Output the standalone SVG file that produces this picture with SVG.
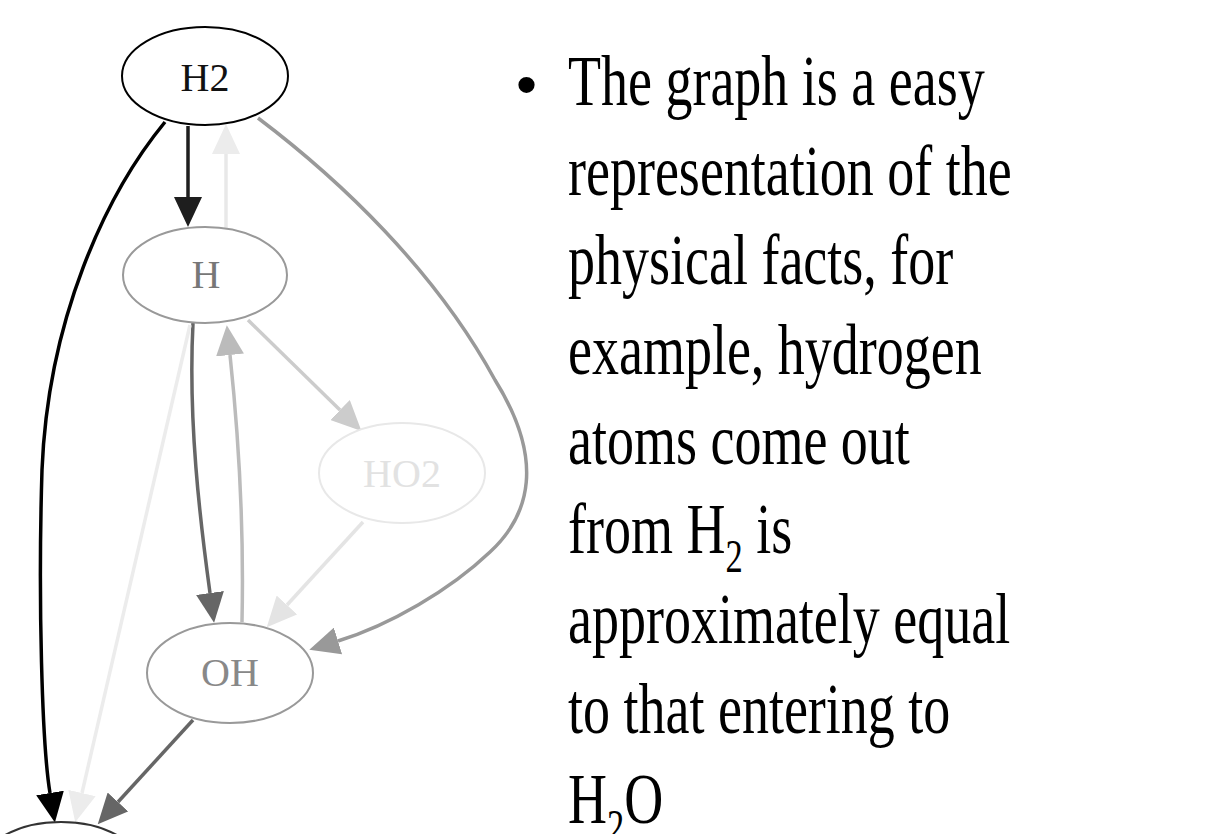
<svg xmlns="http://www.w3.org/2000/svg" width="1218" height="834" viewBox="0 0 1218 834">
<style>
.node{stroke-width:2}
.lbl{font-family:"Liberation Serif","Times New Roman",serif;font-size:40px;text-anchor:middle}
.edge{fill:none;stroke-width:3.5}
.body{font-family:"Liberation Serif","Times New Roman",serif;font-size:72px;fill:#000}
</style>
<defs>
<marker id="a-k" viewBox="0 0 30 28" refX="0" refY="14" markerWidth="30" markerHeight="28" markerUnits="userSpaceOnUse" orient="auto"><path d="M0,0 L30,14 L0,28 z" fill="#000"/></marker>
<marker id="a-22" viewBox="0 0 30 28" refX="0" refY="14" markerWidth="30" markerHeight="28" markerUnits="userSpaceOnUse" orient="auto"><path d="M0,0 L30,14 L0,28 z" fill="#1e1e1e"/></marker>
<marker id="a-66" viewBox="0 0 30 28" refX="0" refY="14" markerWidth="30" markerHeight="28" markerUnits="userSpaceOnUse" orient="auto"><path d="M0,0 L30,14 L0,28 z" fill="#666"/></marker>
<marker id="a-99" viewBox="0 0 30 28" refX="0" refY="14" markerWidth="30" markerHeight="28" markerUnits="userSpaceOnUse" orient="auto"><path d="M0,0 L30,14 L0,28 z" fill="#999"/></marker>
<marker id="a-bb" viewBox="0 0 30 28" refX="0" refY="14" markerWidth="30" markerHeight="28" markerUnits="userSpaceOnUse" orient="auto"><path d="M0,0 L30,14 L0,28 z" fill="#bbb"/></marker>
<marker id="a-cc" viewBox="0 0 30 28" refX="0" refY="14" markerWidth="30" markerHeight="28" markerUnits="userSpaceOnUse" orient="auto"><path d="M0,0 L30,14 L0,28 z" fill="#ccc"/></marker>
<marker id="a-e6" viewBox="0 0 30 28" refX="0" refY="14" markerWidth="30" markerHeight="28" markerUnits="userSpaceOnUse" orient="auto"><path d="M0,0 L30,14 L0,28 z" fill="#e4e4e4"/></marker>
<marker id="a-ee" viewBox="0 0 30 28" refX="0" refY="14" markerWidth="30" markerHeight="28" markerUnits="userSpaceOnUse" orient="auto"><path d="M0,0 L30,14 L0,28 z" fill="#ececec"/></marker>
</defs>
<rect width="1218" height="834" fill="#fff"/>
<g id="connectors">
<path class="edge" d="M165,122 C105,195 48,320 42,470 C38,600 42,745 50,793" stroke="#000" stroke-width="4" marker-end="url(#a-k)"/>
<path class="edge" d="M188,126 L188,197" stroke="#1e1e1e" stroke-width="4" marker-end="url(#a-22)"/>
<path class="edge" d="M226,228 L226,154" stroke="#e8e8e8" stroke-width="3" marker-end="url(#a-ee)"/>
<path class="edge" d="M258,118 C340,180 435,270 495,380 C545,460 530,515 490,552 C450,590 390,625 338,641" stroke="#999" marker-end="url(#a-99)"/>
<path class="edge" d="M193,323 C188,420 200,520 210,593" stroke="#666" marker-end="url(#a-66)"/>
<path class="edge" d="M242,622 C244,530 238,430 230,355" stroke="#bbb" marker-end="url(#a-bb)"/>
<path class="edge" d="M190,325 L82,793" stroke="#ececec" stroke-width="2.5" marker-end="url(#a-ee)"/>
<path class="edge" d="M248,320 L340,410" stroke="#ccc" marker-end="url(#a-cc)"/>
<path class="edge" d="M363,522 L287,605" stroke="#e4e4e4" stroke-width="2.5" marker-end="url(#a-e6)"/>
<path class="edge" d="M193,720 L118,802" stroke="#666" marker-end="url(#a-66)"/>
</g>
<g id="node-H2">
<ellipse class="node" cx="205" cy="76" rx="83" ry="49" fill="#fff" stroke="#000"/>
<text class="lbl" x="205" y="91" fill="#111">H2</text>
</g>
<g id="node-H">
<ellipse class="node" cx="205" cy="275" rx="82" ry="48" fill="#fff" stroke="#999" stroke-width="1.5"/>
<text class="lbl" x="206" y="288" fill="#777">H</text>
</g>
<g id="node-HO2">
<ellipse class="node" cx="402" cy="473" rx="83" ry="50" fill="#fff" stroke="#e8e8e8" stroke-width="1.5"/>
<text class="lbl" x="402" y="487" fill="#e2e2e2">HO2</text>
</g>
<g id="node-OH">
<ellipse class="node" cx="230" cy="673" rx="83" ry="50" fill="#fff" stroke="#999" stroke-width="1.5"/>
<text class="lbl" x="230" y="686" fill="#888">OH</text>
</g>
<g id="node-H2O">
<ellipse class="node" cx="61" cy="872" rx="83" ry="50" fill="#fff" stroke="#333"/>
</g>
<g id="text-block">
<text x="516" y="105" font-family="'Liberation Sans',Arial,sans-serif" font-size="60" fill="#000">•</text>
<g transform="translate(568,0) scale(0.75,1)">
<text class="body" x="0" y="105">The graph is a easy</text>
<text class="body" x="0" y="194.7">representation of the</text>
<text class="body" x="0" y="284.4">physical facts, for</text>
<text class="body" x="0" y="374.1">example, hydrogen</text>
<text class="body" x="0" y="463.8">atoms come out</text>
<text class="body" x="0" y="553.5">from H<tspan font-size="46" dy="19">2</tspan><tspan dy="-19"> is</tspan></text>
<text class="body" x="0" y="643.2">approximately equal</text>
<text class="body" x="0" y="732.9">to that entering to</text>
<text class="body" x="0" y="822.6">H<tspan font-size="46" dy="19">2</tspan><tspan dy="-19">O</tspan></text>
</g>
</g>
</svg>
